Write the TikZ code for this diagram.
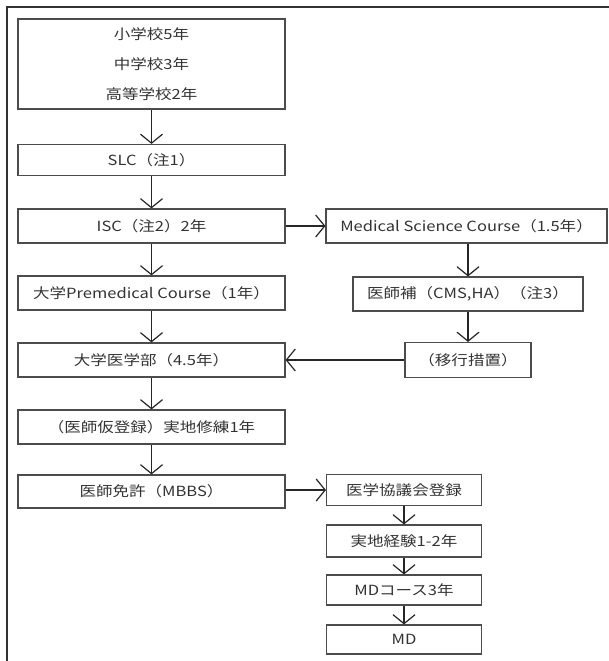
\documentclass[tikz,border=0pt]{standalone}
\usepackage{fontspec}
\setmainfont{Noto Sans CJK JP}[FakeStretch=1.18]
\usetikzlibrary{arrows.meta}
\tikzset{
  stagebox/.style={draw=black!70, line width=1.1pt, rectangle, inner sep=0pt, align=center,
    font=\fontsize{14}{30}\selectfont, text=black!80},
  leftcol/.style={stagebox, minimum width=267pt},
  flow/.style={draw=black!85, line width=1.2pt, -{Straight Barb[length=9pt,width=22pt,line width=1.2pt]}},
  frameline/.style={draw=black!80, line width=2pt}
}
\begin{document}
\begin{tikzpicture}[x=1pt,y=-1pt]
\useasboundingbox (0,0) rectangle (609,661);
% outer frame (cropped)
\coordinate (fa) at (7,662);
\coordinate (fb) at (7,7);
\coordinate (fc) at (610,7);
\draw[frameline] (fa) -- (fb) -- (fc);
% left column
\node[leftcol, minimum height=90pt] (b1) at (151.5,64) {小学校5年\\中学校3年\\高等学校2年};
\node[leftcol, minimum height=31pt] (slc) at (151.5,160) {SLC（注1）};
\node[leftcol, minimum height=34pt] (isc) at (151.5,226) {ISC（注2）2年};
\node[leftcol, minimum height=34pt] (pre) at (151.5,293) {大学Premedical Course（1年）};
\node[leftcol, minimum height=34pt] (fac) at (151.5,360) {大学医学部（4.5年）};
\node[leftcol, minimum height=34pt] (kari) at (151.5,427) {（医師仮登録）実地修練1年};
\node[leftcol, minimum height=33pt] (lic) at (151.5,491.5) {医師免許（MBBS）};
% right column
\node[stagebox, minimum width=281pt, minimum height=34pt] (msc) at (466.5,226) {Medical Science Course（1.5年）};
\node[stagebox, minimum width=230pt, minimum height=34pt] (cms) at (468,294) {医師補（CMS,HA）（注3）};
\node[stagebox, minimum width=126pt, minimum height=35pt] (trans) at (468,360) {（移行措置）};
\node[stagebox, minimum width=155pt, minimum height=31pt] (reg) at (404,490) {医学協議会登録};
\node[stagebox, minimum width=155pt, minimum height=32pt] (exp) at (404,541) {実地経験1-2年};
\node[stagebox, minimum width=155pt, minimum height=30pt] (mdc) at (404,590) {MDコース3年};
\node[stagebox, minimum width=155pt, minimum height=29pt] (md) at (404,639.5) {MD};
% connectors
\draw[flow] (b1) -- (slc);
\draw[flow] (slc) -- (isc);
\draw[flow] (isc) -- (pre);
\draw[flow] (pre) -- (fac);
\draw[flow] (fac) -- (kari);
\draw[flow] (kari) -- (lic);
\draw[flow] (isc) -- (msc);
\draw[flow] (msc.south -| cms.north) -- (cms.north);
\draw[flow] (cms) -- (trans);
\draw[flow] (trans) -- (fac);
\draw[flow] (lic.east |- reg.west) -- (reg.west);
\draw[flow] (reg) -- (exp);
\draw[flow] (exp) -- (mdc);
\draw[flow] (mdc) -- (md);
\end{tikzpicture}
\end{document}
